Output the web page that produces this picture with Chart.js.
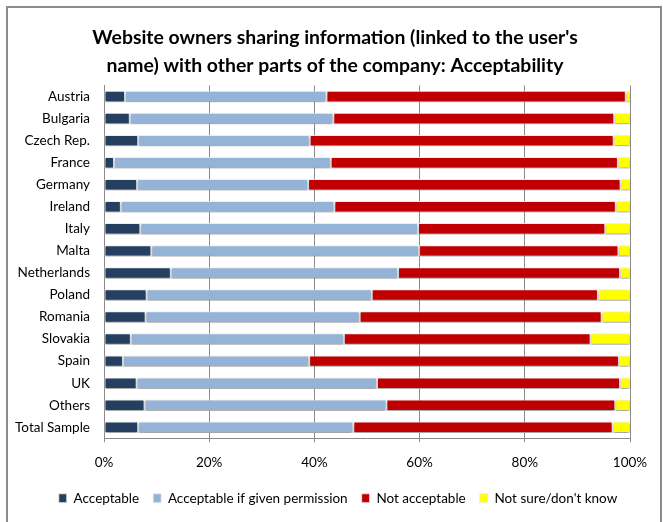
<!DOCTYPE html>
<html>
<head>
<meta charset="utf-8">
<script src="https://cdn.jsdelivr.net/npm/chart.js@4"></script>
<style>
html,body{margin:0;padding:0;background:#fff;}
#wrap{width:663px;height:522px;position:relative;}
</style>
</head>
<body>
<div id="wrap"><canvas id="c" width="663" height="522"></canvas></div>
<script>
const categories = ["Austria","Bulgaria","Czech Rep.","France","Germany","Ireland","Italy","Malta","Netherlands","Poland","Romania","Slovakia","Spain","UK","Others","Total Sample"];
const acceptable = [4.0,4.9,6.5,1.9,6.3,3.2,6.9,9.0,12.7,8.1,7.9,5.1,3.6,6.2,7.7,6.5];
const acceptableIfPermission = [38.3,38.7,32.6,41.2,32.5,40.6,52.8,50.9,43.2,42.8,40.7,40.5,35.4,45.7,46.0,40.9];
const notAcceptable = [56.9,53.4,57.8,54.6,59.4,53.5,35.6,37.9,42.2,43.0,46.0,46.9,58.9,46.2,43.5,49.3];
const notSure = [0.8,3.0,3.1,2.3,1.8,2.7,4.7,2.2,1.9,6.1,5.4,7.5,2.1,1.9,2.8,3.3];
const seriesNames = ["Acceptable","Acceptable if given permission","Not acceptable","Not sure/don't know"];
const tickValues = [0,20,40,60,80,100];
const titleLines = ["Website owners sharing information (linked to the user's","name) with other parts of the company: Acceptability"];

const FONT = "Lato, 'Open Sans', sans-serif";
const colors = ["#243F60","#95B3D7","#C00000","#FFFF00"];

const frame = {
  id:'frame',
  beforeDraw(chart){
    const ctx = chart.ctx;
    ctx.save();
    ctx.strokeStyle = '#8c8c8c';
    ctx.lineWidth = 2;
    ctx.strokeRect(7, 7, 654, 530);
    ctx.restore();
  },
  afterLayout(chart){
    if (chart.legend) {
      chart.legend.left += 19; chart.legend.right += 19;
      chart.legend.top -= 5; chart.legend.bottom -= 5;
    }
    if (chart.titleBlock) { chart.titleBlock.left += 16; chart.titleBlock.right += 16; }
  },
  beforeDatasetsDraw(chart){
    const ctx = chart.ctx;
    ctx.save();
    ctx.shadowColor = 'rgba(0,0,0,0.3)';
    ctx.shadowOffsetX = 0;
    ctx.shadowOffsetY = 2;
    ctx.shadowBlur = 2;
  },
  afterDatasetsDraw(chart){
    chart.ctx.restore();
  }
};

const mk = (i, data) => ({
  label: seriesNames[i],
  data: data,
  backgroundColor: colors[i],
  borderColor: 'rgba(235,235,235,0.9)',
  borderWidth: 1,
  borderSkipped: false,
  categoryPercentage: 1.0,
  barPercentage: 0.52
});

new Chart(document.getElementById('c'), {
  type: 'bar',
  data: {
    labels: categories,
    datasets: [mk(0,acceptable), mk(1,acceptableIfPermission), mk(2,notAcceptable), mk(3,notSure)]
  },
  options: {
    indexAxis: 'y',
    responsive: false,
    animation: false,
    layout: { padding: { left: 8, right: 33, top: 24, bottom: 2 } },
    plugins: {
      title: {
        display: true,
        text: titleLines,
        color: '#000',
        font: { family: FONT, size: 19.4, weight: 'bold', lineHeight: 1.43 },
        padding: { top: 0, bottom: 6 }
      },
      legend: {
        position: 'bottom',
        labels: {
          color: '#000',
          font: { family: FONT, size: 13.5 },
          boxWidth: 8, boxHeight: 9,
          padding: 14,
          useBorderRadius: false
        }
      },
      tooltip: { enabled: false }
    },
    scales: {
      x: {
        stacked: true,
        min: 0, max: 100,
        afterBuildTicks(axis){ axis.ticks = tickValues.map(v => ({value: v})); },
        ticks: {
          color: '#000',
          font: { family: FONT, size: 13.5 },
          padding: 12,
          callback: v => v + '%'
        },
        grid: { color: '#8a8a8a', lineWidth: 1, drawTicks: true, tickLength: 4 },
        border: { color: '#8a8a8a' }
      },
      y: {
        stacked: true,
        afterFit(axis){ axis.width = 96; },
        ticks: {
          color: '#000',
          font: { family: FONT, size: 13.5 },
          padding: 14
        },
        grid: { display: false, drawTicks: false },
        border: { color: '#8a8a8a' }
      }
    }
  },
  plugins: [frame]
});
</script>
</body>
</html>
